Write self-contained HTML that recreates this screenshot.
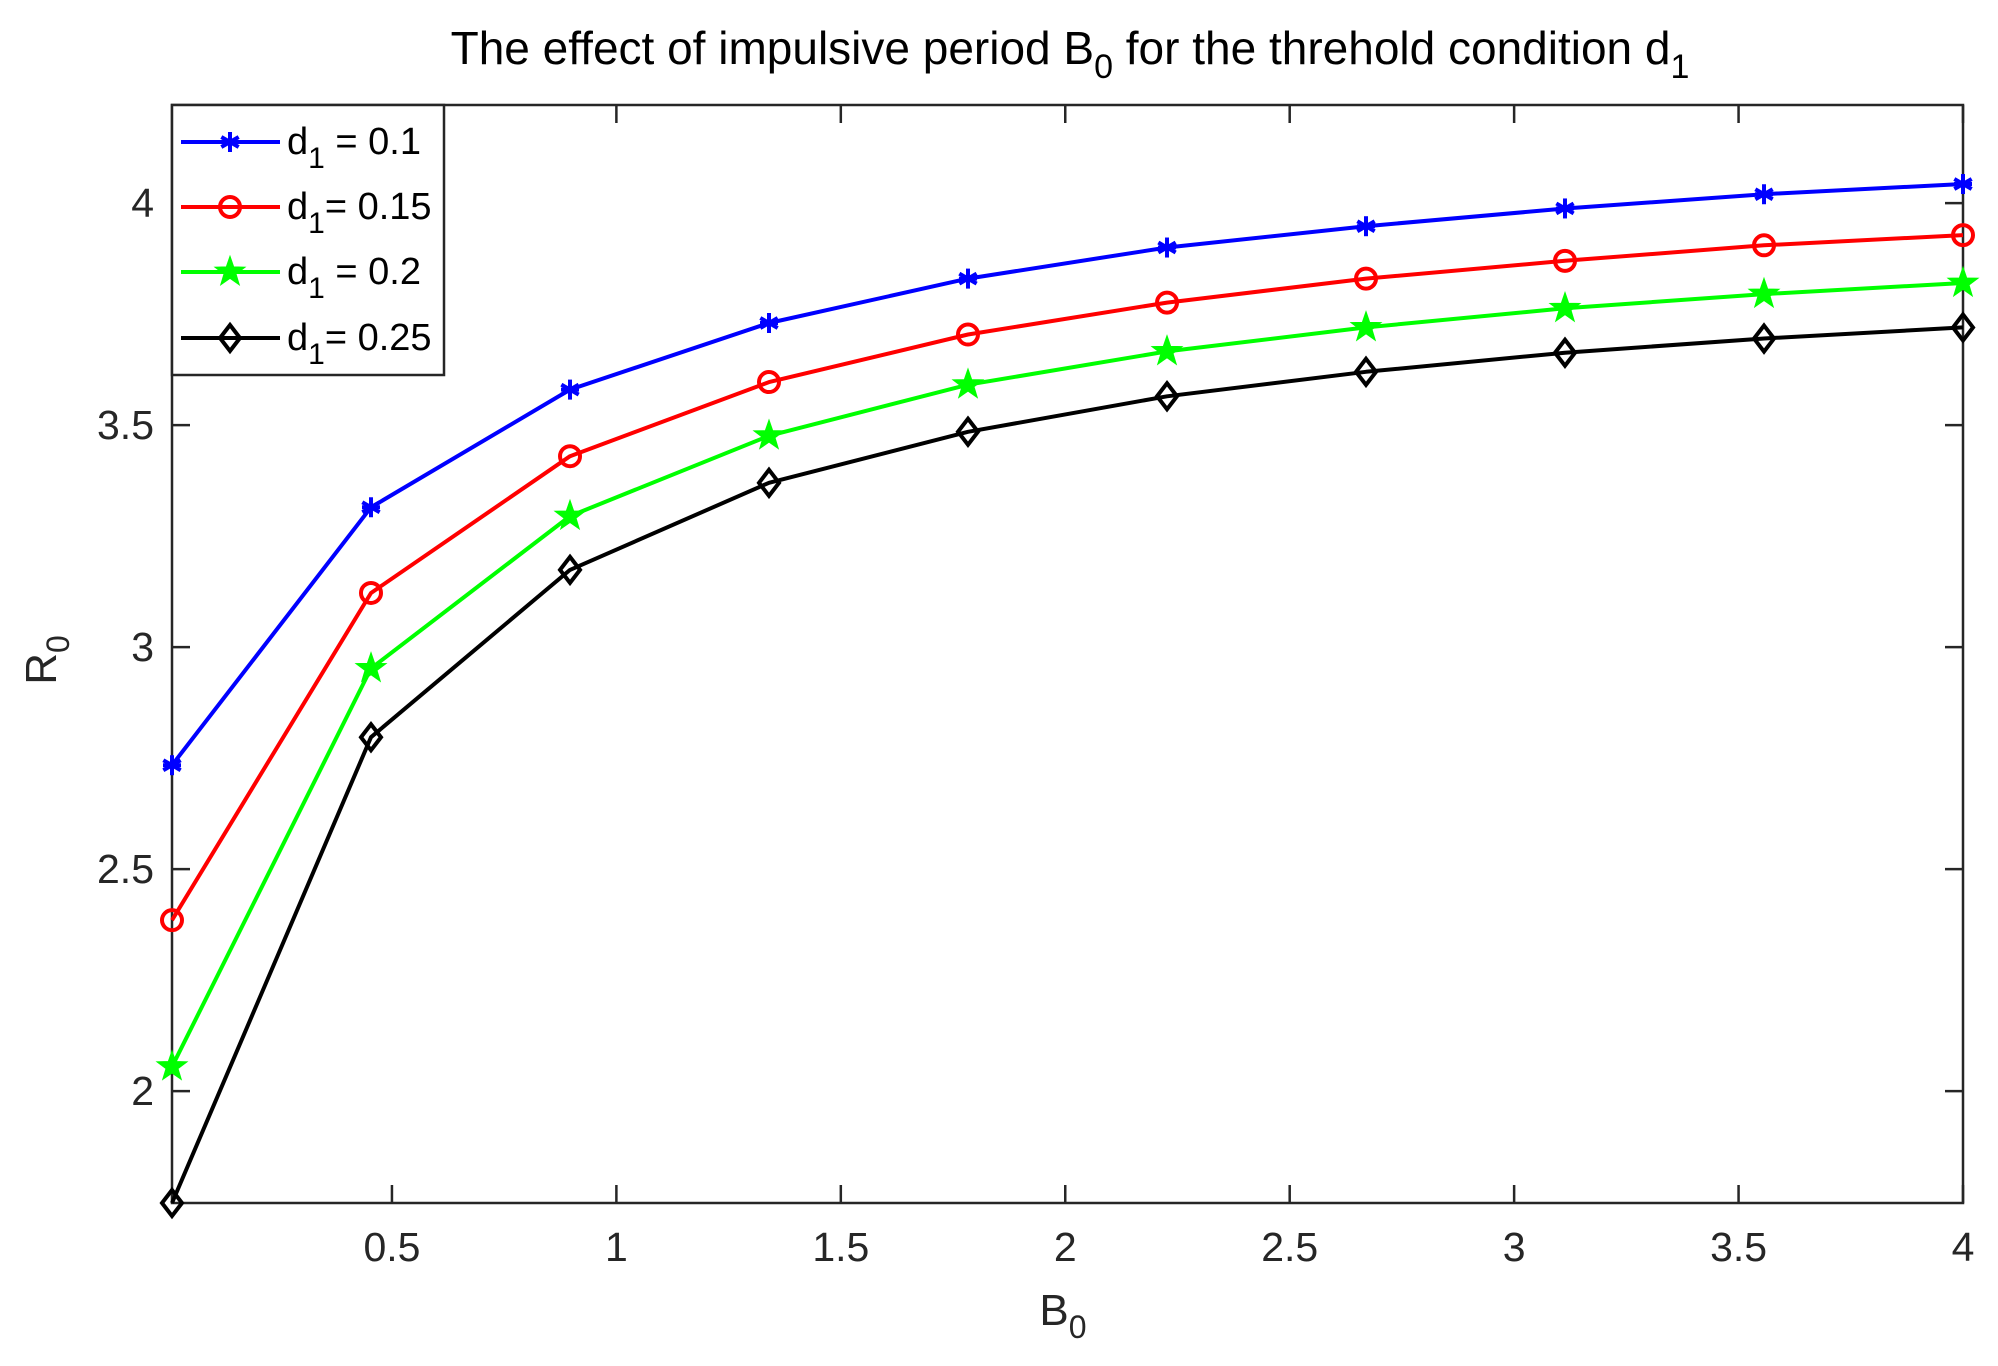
<!DOCTYPE html>
<html><head><meta charset="utf-8"><style>
body{margin:0;background:#fff}
svg{display:block;font-family:"Liberation Sans",sans-serif}
</style></head><body>
<svg id="chart" width="1998" height="1366" viewBox="0 0 1998 1366"></svg>
<script>
const xValues=[0.01,0.4533,0.8967,1.34,1.7833,2.2267,2.67,3.1133,3.5567,4.0];
const seriesBlue=[2.734,3.315,3.58,3.73,3.83,3.90,3.948,3.988,4.02,4.043];
const seriesRed=[2.385,3.122,3.43,3.597,3.704,3.776,3.83,3.87,3.905,3.928];
const seriesGreen=[2.055,2.952,3.295,3.476,3.591,3.666,3.72,3.763,3.795,3.82];
const seriesBlack=[1.748,2.797,3.174,3.37,3.485,3.565,3.62,3.663,3.695,3.72];
const xTicks=[0.5,1,1.5,2,2.5,3,3.5,4];
const xTickLabels=["0.5","1","1.5","2","2.5","3","3.5","4"];
const yTicks=[2,2.5,3,3.5,4];
const yTickLabels=["2","2.5","3","3.5","4"];
const legendLabels=[["= 0.1"," "],["= 0.15",""],["= 0.2"," "],["= 0.25",""]];

const NS="http://www.w3.org/2000/svg";
const svg=document.getElementById('chart');
const L=172,R=1963,T=105,B=1203,X0=0.01,X1=4.0,Y0=1.748,Y1=4.221;
function sx(v){return L+(v-X0)/(X1-X0)*(R-L);}
function sy(v){return B-(v-Y0)/(Y1-Y0)*(B-T);}
function mk(tag,attrs,parent){const e=document.createElementNS(NS,tag);for(const k in attrs)e.setAttribute(k,attrs[k]);(parent||svg).appendChild(e);return e;}
const AX='#262626';

const title=mk('text',{x:1070,y:64,'text-anchor':'middle','font-size':46,fill:'#000'});


title.innerHTML='The effect of impulsive period B<tspan font-size="34" dy="14">0</tspan><tspan dy="-14"> for the threhold condition d</tspan><tspan font-size="34" dy="14">1</tspan>';

const box=mk('rect',{x:L,y:T,width:R-L,height:B-T,fill:'none',stroke:AX,'stroke-width':2.5});



xTicks.forEach((t,i)=>{
  const x=sx(t);
  mk('line',{x1:x,x2:x,y1:B,y2:B-18,stroke:AX,'stroke-width':2.5});
  mk('line',{x1:x,x2:x,y1:T,y2:T+18,stroke:AX,'stroke-width':2.5});
  const tx=mk('text',{x:x,y:1261,'text-anchor':'middle','font-size':41,fill:AX});
  
  
  tx.textContent=xTickLabels[i];
});
yTicks.forEach((t,i)=>{
  const y=sy(t);
  mk('line',{x1:L,x2:L+18,y1:y,y2:y,stroke:AX,'stroke-width':2.5});
  mk('line',{x1:R,x2:R-18,y1:y,y2:y,stroke:AX,'stroke-width':2.5});
  const tx=mk('text',{x:154,y:y+14,'text-anchor':'end','font-size':41,fill:AX});
  
  
  tx.textContent=yTickLabels[i];
});
const xl=mk('text',{x:1063,y:1325,'text-anchor':'middle','font-size':44,fill:AX});


xl.innerHTML='B<tspan font-size="32" dy="13">0</tspan>';
const yl=mk('text',{x:0,y:0,'text-anchor':'middle','font-size':44,fill:AX,transform:'translate(56,660) rotate(-90)'});


yl.innerHTML='R<tspan font-size="32" dy="13">0</tspan>';

function marker(type,color,x,y,g){
  if(type==='star6'){
    for(let a=0;a<180;a+=60){const r=a*Math.PI/180,d=10;
      mk('line',{x1:x-d*Math.sin(r),y1:y-d*Math.cos(r),x2:x+d*Math.sin(r),y2:y+d*Math.cos(r),stroke:color,'stroke-width':4},g);}
    mk('line',{x1:x-9,y1:y,x2:x+9,y2:y,stroke:color,'stroke-width':4},g);
  }else if(type==='circle'){
    mk('circle',{cx:x,cy:y,r:10,fill:'none',stroke:color,'stroke-width':4},g);
  }else if(type==='pent'){
    let p=[];for(let i=0;i<10;i++){const r=(i%2?6:15),a=-Math.PI/2+i*Math.PI/5;p.push((x+r*Math.cos(a)).toFixed(1)+','+(y+r*Math.sin(a)).toFixed(1));}
    mk('polygon',{points:p.join(' '),fill:color,stroke:color,'stroke-width':1.5},g);
  }else{
    mk('polygon',{points:`${x},${y-13} ${x+10},${y} ${x},${y+13} ${x-10},${y}`,fill:'none',stroke:color,'stroke-width':4},g);
  }
}
const series=[[seriesBlue,'#0000ff','star6','series-d1-0.1'],[seriesRed,'#ff0000','circle','series-d1-0.15'],[seriesGreen,'#00ff00','pent','series-d1-0.2'],[seriesBlack,'#000000','diamond','series-d1-0.25']];
series.forEach(s=>{
  const g=mk('g',{});
  
  
  const pts=s[0].map((v,i)=>sx(xValues[i]).toFixed(1)+','+sy(v).toFixed(1)).join(' ');
  mk('polyline',{points:pts,fill:'none',stroke:s[1],'stroke-width':4,'stroke-linejoin':'round'},g);
  s[0].forEach((v,i)=>marker(s[2],s[1],sx(xValues[i]),sy(v),g));
});

const lg=mk('g',{});


mk('rect',{x:172,y:105,width:272,height:270,fill:'#fff',stroke:AX,'stroke-width':2.5},lg);
const ly=[142,207,272,338];
series.forEach((s,i)=>{
  const e=mk('g',{},lg);
  
  
  mk('line',{x1:181,x2:280,y1:ly[i],y2:ly[i],stroke:s[1],'stroke-width':4},e);
  marker(s[2],s[1],230,ly[i],e);
  const t=mk('text',{x:287,y:ly[i]+12,'font-size':38,fill:'#000'},e);
  t.innerHTML='d<tspan font-size="30" dy="14">1</tspan><tspan dy="-14">'+legendLabels[i][1].replace(' ','\u00a0')+legendLabels[i][0]+'</tspan>';
});
</script>
</body></html>
